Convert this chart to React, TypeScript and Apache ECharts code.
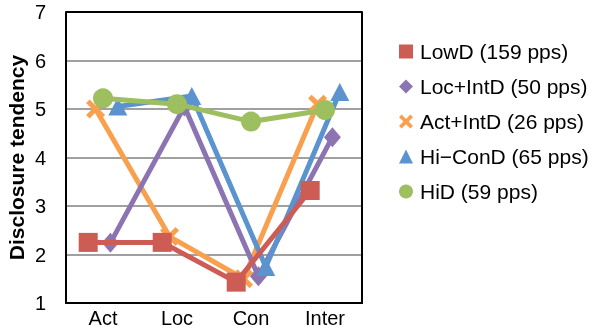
import React, { useEffect, useRef } from "react";
import * as echarts from "echarts";

const categories = ["Act", "Loc", "Con", "Inter"];
const seriesNames = [
  "LowD (159 pps)",
  "Loc+IntD (50 pps)",
  "Act+IntD (26 pps)",
  "Hi\u2212ConD (65 pps)",
  "HiD (59 pps)",
];
const lowD = [2.25, 2.25, 1.43, 3.32];
const locIntD = [2.24, 5.05, 1.55, 4.42];
const actIntD = [5.0, 2.37, 1.5, 5.1];
const hiConD = [5.05, 5.27, 1.74, 5.35];
const hiD = [5.22, 5.1, 4.74, 4.98];
// per-series horizontal shift within each category (category units)
const xShift = [-0.2, 0.1, -0.1, 0.2, 0];
const yMin = 1;
const yMax = 7;

const FONT = "'Liberation Sans', Arial, sans-serif";
const CROSS = "path://M0,3L3,0L8,5L13,0L16,3L11,8L16,13L13,16L8,11L3,16L0,13L5,8Z";

export default function App() {
  const ref = useRef<HTMLDivElement>(null);
  useEffect(() => {
    if (!ref.current) return;
    const chart = echarts.init(ref.current, null, { renderer: "svg" });
    const values = [lowD, locIntD, actIntD, hiConD, hiD];
    const colors = ["#CD5C55", "#8C74B2", "#F9A04E", "#5B93CF", "#9DBF5F"];
    const symbols = ["rect", "diamond", CROSS, "triangle", "circle"];
    const sizes: any[] = [19, [17, 20], 19, [19, 18], 20];
    // draw order (bottom to top)
    const drawOrder = [2, 1, 3, 0, 4];
    const series = drawOrder.map((k, z) => ({
      name: seriesNames[k],
      type: "line",
      xAxisIndex: 1,
      z: 2 + z,
      data: values[k].map((v, i) => [i + xShift[k], v]),
      symbol: symbols[k],
      symbolSize: sizes[k],
      showAllSymbol: true,
      lineStyle: { color: colors[k], width: 5 },
      itemStyle: { color: colors[k], borderWidth: 0 },
      emphasis: { disabled: true },
    }));
    const gridLineColors = ["#000", "#A0A0A0", "#A0A0A0", "#A0A0A0", "#A0A0A0", "#A0A0A0", "#000"];
    chart.setOption({
      animation: false,
      textStyle: { fontFamily: FONT },
      grid: {
        left: 66,
        right: 233,
        top: 12,
        bottom: 28,
      },
      legend: {
        orient: "vertical",
        left: 394,
        top: 36,
        itemWidth: 14,
        itemHeight: 14,
        itemGap: 14,
        data: seriesNames.map((n, k) => ({ name: n, icon: symbols[k] })),
        textStyle: { fontSize: 21, color: "#000", fontFamily: FONT, lineHeight: 21, padding: [0, 0, 0, 2] },
      },
      xAxis: [
        {
          type: "category",
          data: categories,
          boundaryGap: true,
          axisLine: { show: true, onZero: false, lineStyle: { color: "#000", width: 2 } },
          axisTick: { show: false },
          axisLabel: { fontSize: 20, color: "#000", margin: 5, fontFamily: FONT },
          splitLine: { show: false },
        },
        {
          type: "value",
          min: -0.5,
          max: 3.5,
          show: false,
        },
      ],
      yAxis: [
        {
          type: "value",
          min: yMin,
          max: yMax,
          interval: 1,
          name: "Disclosure tendency",
          nameLocation: "middle",
          nameGap: 39,
          nameTextStyle: { fontSize: 21, fontWeight: "bold", color: "#000", fontFamily: FONT },
          axisLine: { show: true, onZero: false, lineStyle: { color: "#000", width: 2 } },
          axisTick: { show: false },
          axisLabel: { fontSize: 20, color: "#000", margin: 20, fontFamily: FONT },
          splitLine: { show: true, lineStyle: { color: gridLineColors, width: 2 } },
        },
        {
          type: "value",
          min: yMin,
          max: yMax,
          interval: 1,
          position: "right",
          axisLine: { show: true, onZero: false, lineStyle: { color: "#000", width: 2 } },
          axisTick: { show: false },
          axisLabel: { show: false },
          splitLine: { show: false },
        },
      ],
      series,
    });
    return () => chart.dispose();
  }, []);
  return <div ref={ref} style={{ position: "fixed", left: 0, top: 0, width: 595, height: 331 }} />;
}
